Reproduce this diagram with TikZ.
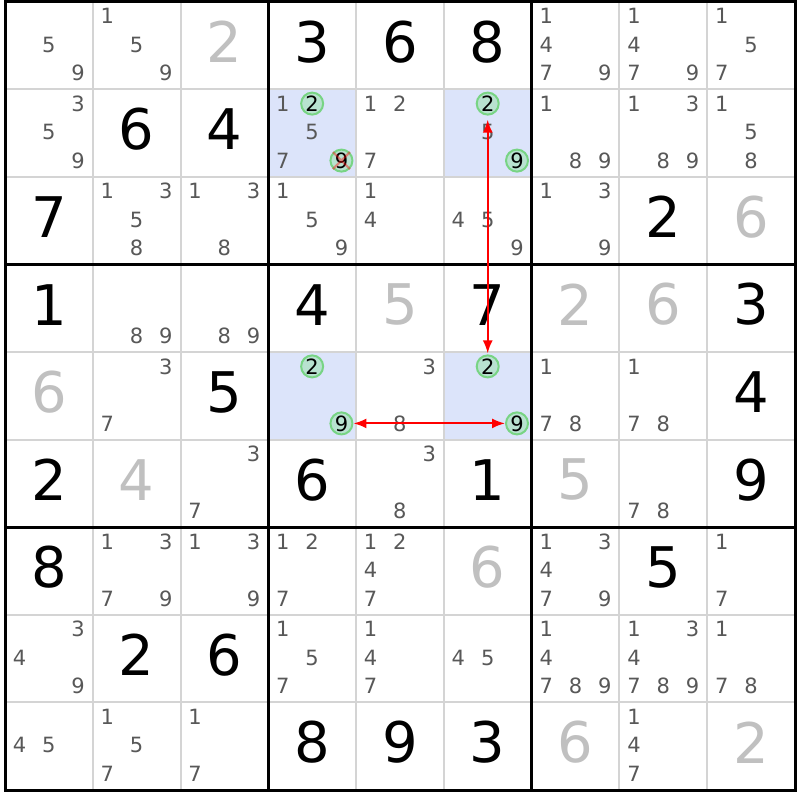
\documentclass[tikz,border=0pt]{standalone}
\usepackage{fontspec}
\setmainfont{DejaVu Sans}
\usetikzlibrary{arrows.meta}
\definecolor{pencil}{RGB}{88,88,88}
\definecolor{faded}{RGB}{192,192,192}
\definecolor{gridline}{RGB}{212,212,212}
\definecolor{marked}{RGB}{220,228,250}
\definecolor{ringline}{RGB}{120,212,132}
\definecolor{ringfill}{RGB}{184,226,208}
\definecolor{linkred}{RGB}{255,0,0}
\tikzset{
  cand/.style={text=pencil, inner sep=0pt, font=\fontsize{21}{21}\selectfont},
  hit/.style={circle, draw=ringline, fill=ringfill, line width=2pt, minimum size=22pt, inner sep=0pt, text=black, font=\fontsize{21}{21}\selectfont},
  solved/.style={text=black, inner sep=0pt, font=\fontsize{56}{56}\selectfont},
  fixed/.style={solved, text=faded},
  cellline/.style={draw=gridline, line width=2pt},
  boxline/.style={draw=black, line width=3pt},
  link/.style={color=linkred, line width=2pt, {Latex[length=13pt,width=10pt]}-{Latex[length=13pt,width=10pt]}},
  strike/.style={draw=linkred, opacity=0.4, line width=2.2pt}
}
% candidate d of cell (r,c), and a set value of a cell
\newcommand{\cand}[4][cand]{\node[#1] (p#2#3#4) at ({5+(#3-1)*87.78+14.5+mod(#4-1,3)*29.3}, {1.5+(#2-1)*87.6+14.5+floor((#4-1)/3)*28.5}) {#4};}
\newcommand{\cands}[3]{\foreach \d in {#3} {\cand{#1}{#2}{\d}}}
\newcommand{\solved}[4][solved]{\node[#1] (v#2#3) at ({5+(#3-0.5)*87.78}, {1.5+(#2-0.5)*87.6-3.5}) {#4};}

\begin{document}
\begin{tikzpicture}[x=1pt, y=-1pt]
\fill[white] (0,0) rectangle (800,800);
\foreach \r/\c in {2/4,2/6,5/4,5/6}
  \fill[marked] ({5+(\c-1)*87.78},{1.5+(\r-1)*87.6}) rectangle ++(87.78,87.6);
\foreach \i in {1,2,4,5,7,8} {
  \draw[cellline] ({5+\i*87.78},1.5) -- ++(0,788.4);
  \draw[cellline] (5,{1.5+\i*87.6}) -- ++(790,0);
}
\foreach \i in {3,6} {
  \draw[boxline] ({5+\i*87.78},1.5) -- ++(0,788.4);
  \draw[boxline] (5,{1.5+\i*87.6}) -- ++(790,0);
}
\draw[boxline] (5,1.5) rectangle (795,790);

% row 1
\cands{1}{1}{5,9} \cands{1}{2}{1,5,9} \solved[fixed]{1}{3}{2}
\solved{1}{4}{3} \solved{1}{5}{6} \solved{1}{6}{8}
\cands{1}{7}{1,4,7,9} \cands{1}{8}{1,4,7,9} \cands{1}{9}{1,5,7}
% row 2
\cands{2}{1}{3,5,9} \solved{2}{2}{6} \solved{2}{3}{4}
\cands{2}{4}{1,5,7} \cand[hit]{2}{4}{2} \cand[hit]{2}{4}{9}
\cands{2}{5}{1,2,7}
\cands{2}{6}{5} \cand[hit]{2}{6}{2} \cand[hit]{2}{6}{9}
\cands{2}{7}{1,8,9} \cands{2}{8}{1,3,8,9} \cands{2}{9}{1,5,8}
% row 3
\solved{3}{1}{7} \cands{3}{2}{1,3,5,8} \cands{3}{3}{1,3,8}
\cands{3}{4}{1,5,9} \cands{3}{5}{1,4} \cands{3}{6}{4,5,9}
\cands{3}{7}{1,3,9} \solved{3}{8}{2} \solved[fixed]{3}{9}{6}
% row 4
\solved{4}{1}{1} \cands{4}{2}{8,9} \cands{4}{3}{8,9}
\solved{4}{4}{4} \solved[fixed]{4}{5}{5} \solved{4}{6}{7}
\solved[fixed]{4}{7}{2} \solved[fixed]{4}{8}{6} \solved{4}{9}{3}
% row 5
\solved[fixed]{5}{1}{6} \cands{5}{2}{3,7} \solved{5}{3}{5}
\cand[hit]{5}{4}{2} \cand[hit]{5}{4}{9} \cands{5}{5}{3,8}
\cand[hit]{5}{6}{2} \cand[hit]{5}{6}{9}
\cands{5}{7}{1,7,8} \cands{5}{8}{1,7,8} \solved{5}{9}{4}
% row 6
\solved{6}{1}{2} \solved[fixed]{6}{2}{4} \cands{6}{3}{3,7}
\solved{6}{4}{6} \cands{6}{5}{3,8} \solved{6}{6}{1}
\solved[fixed]{6}{7}{5} \cands{6}{8}{7,8} \solved{6}{9}{9}
% row 7
\solved{7}{1}{8} \cands{7}{2}{1,3,7,9} \cands{7}{3}{1,3,9}
\cands{7}{4}{1,2,7} \cands{7}{5}{1,2,4,7} \solved[fixed]{7}{6}{6}
\cands{7}{7}{1,3,4,7,9} \solved{7}{8}{5} \cands{7}{9}{1,7}
% row 8
\cands{8}{1}{3,4,9} \solved{8}{2}{2} \solved{8}{3}{6}
\cands{8}{4}{1,5,7} \cands{8}{5}{1,4,7} \cands{8}{6}{4,5}
\cands{8}{7}{1,4,7,8,9} \cands{8}{8}{1,3,4,7,8,9} \cands{8}{9}{1,7,8}
% row 9
\cands{9}{1}{4,5} \cands{9}{2}{1,5,7} \cands{9}{3}{1,7}
\solved{9}{4}{8} \solved{9}{5}{9} \solved{9}{6}{3}
\solved[fixed]{9}{7}{6} \cands{9}{8}{1,4,7} \solved[fixed]{9}{9}{2}

% elimination and links
\draw[strike] (p249.north west) -- (p249.south east) (p249.north east) -- (p249.south west);
\draw[link, shorten <=4pt, shorten >=1pt] (p262) -- (p562);
\draw[link] (p549) -- (p569);
\end{tikzpicture}
\end{document}
